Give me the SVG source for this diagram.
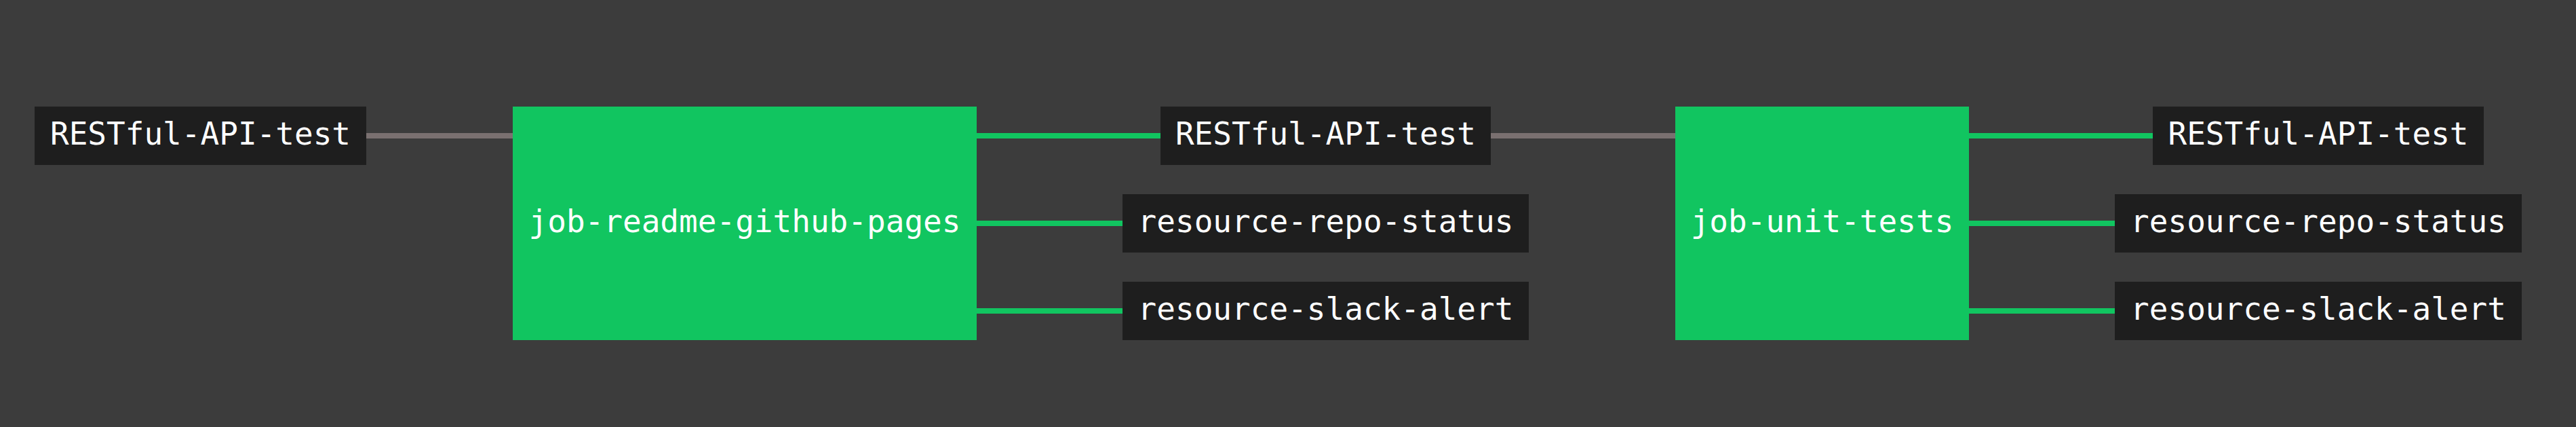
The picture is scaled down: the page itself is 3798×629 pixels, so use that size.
<svg xmlns="http://www.w3.org/2000/svg" width="3798" height="629" viewBox="0 0 3798 629">
<style>
.bg{fill:#3c3c3c}
.res{fill:#1e1e1e}
.job{fill:#11c560}
text{font-family:"DejaVu Sans Mono","Liberation Mono",monospace;font-size:46px;fill:#ffffff;text-anchor:middle}
.in{stroke:#7a7070;stroke-width:8;fill:none}
.out{stroke:#11c560;stroke-width:8;fill:none}
</style>
<rect class="bg" x="0" y="0" width="3798" height="629"/>
<g id="connectors">
<line class="in" x1="540" y1="200" x2="756" y2="200"/>
<line class="out" x1="1440" y1="200" x2="1711" y2="200"/>
<line class="out" x1="1440" y1="329" x2="1655" y2="329"/>
<line class="out" x1="1440" y1="458" x2="1655" y2="458"/>
<line class="in" x1="2198" y1="200" x2="2470" y2="200"/>
<line class="out" x1="2903" y1="200" x2="3174" y2="200"/>
<line class="out" x1="2903" y1="329" x2="3118" y2="329"/>
<line class="out" x1="2903" y1="458" x2="3118" y2="458"/>
</g>
<g id="res-restful-in"><rect class="res" x="51" y="157" width="489" height="86"/><text x="295.5" y="213">RESTful-API-test</text></g>
<g id="job-readme-github-pages"><rect class="job" x="756" y="157" width="684" height="344"/><text x="1098" y="342">job-readme-github-pages</text></g>
<g id="res-restful-mid"><rect class="res" x="1711" y="157" width="487" height="86"/><text x="1954.5" y="213">RESTful-API-test</text></g>
<g id="res-repo-status-1"><rect class="res" x="1655" y="286" width="599" height="86"/><text x="1954.5" y="342">resource-repo-status</text></g>
<g id="res-slack-alert-1"><rect class="res" x="1655" y="415" width="599" height="86"/><text x="1954.5" y="471">resource-slack-alert</text></g>
<g id="job-unit-tests"><rect class="job" x="2470" y="157" width="433" height="344"/><text x="2686.5" y="342">job-unit-tests</text></g>
<g id="res-restful-out"><rect class="res" x="3174" y="157" width="488" height="86"/><text x="3418" y="213">RESTful-API-test</text></g>
<g id="res-repo-status-2"><rect class="res" x="3118" y="286" width="600" height="86"/><text x="3418" y="342">resource-repo-status</text></g>
<g id="res-slack-alert-2"><rect class="res" x="3118" y="415" width="600" height="86"/><text x="3418" y="471">resource-slack-alert</text></g>
</svg>
